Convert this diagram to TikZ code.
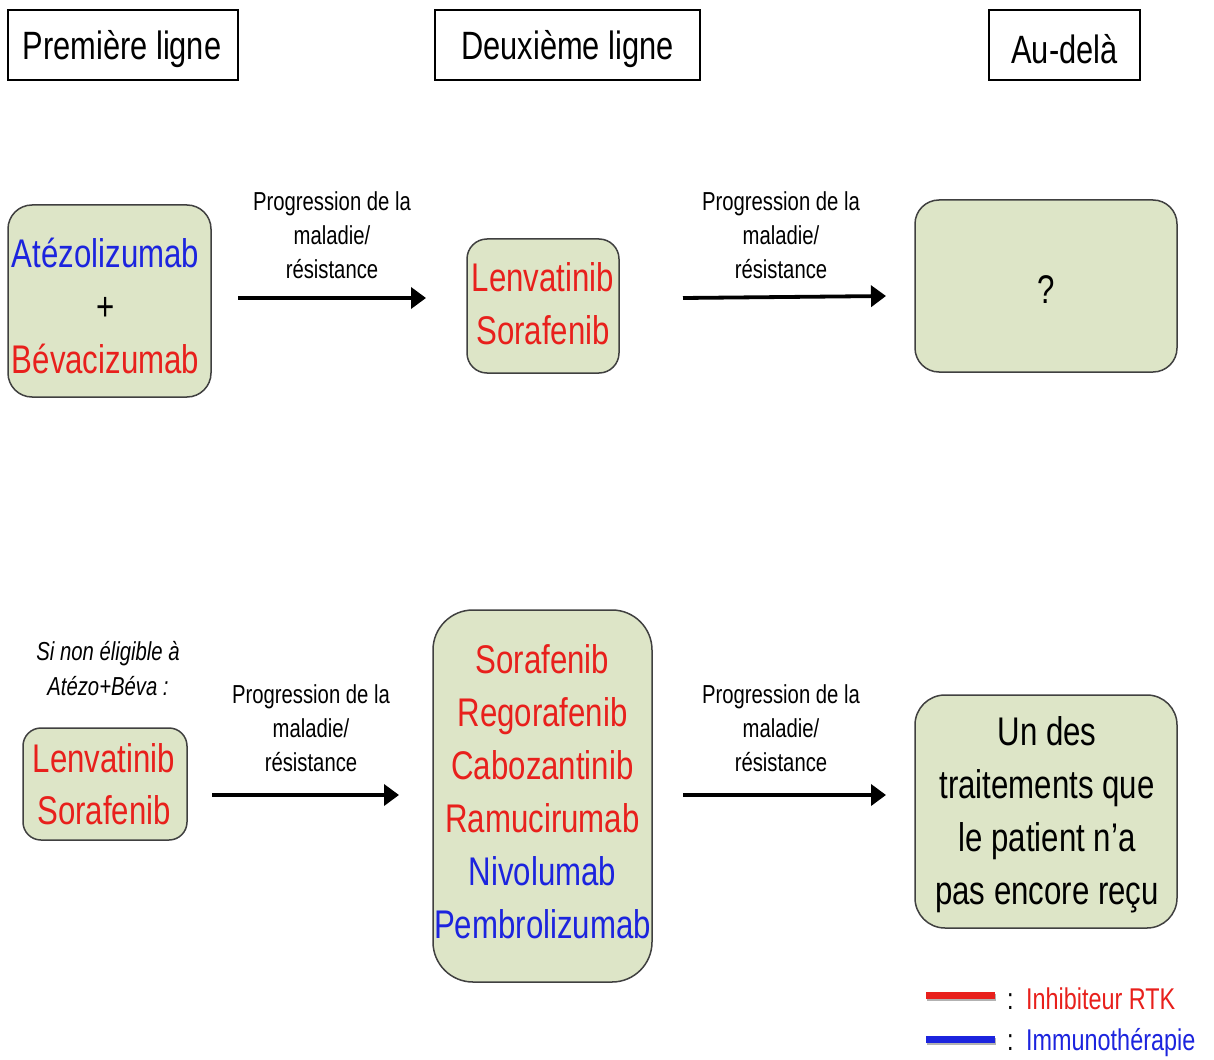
\documentclass[tikz,border=0pt]{standalone}
\usepackage{fontspec}
\setmainfont{Liberation Sans}[FakeStretch=0.78]
\usetikzlibrary{arrows.meta}
\definecolor{rr}{RGB}{232,32,28}
\definecolor{bb}{RGB}{28,36,222}
\definecolor{gf}{RGB}{221,229,199}
\begin{document}
\begin{tikzpicture}[x=1pt,y=-1pt,
 hdr/.style={draw=black,line width=1.2pt,minimum height=70pt,inner sep=0pt},
 hdrt/.style={inner sep=0pt,font=\fontsize{39.5}{44}\selectfont},
 box/.style={draw=black!75,line width=1.5pt,fill=gf,rounded corners=24pt,inner sep=0pt},
 txt/.style={inner sep=0pt,align=center,font=\fontsize{40}{53}\selectfont},
 lab/.style={align=center,font=\fontsize{26}{34}\selectfont},
 arr/.style={line width=3.8pt,-{Triangle[length=15pt,width=21pt]}},
 leg/.style={line width=7pt},
 legt/.style={anchor=base west,inner sep=0pt,font=\fontsize{30}{36}\selectfont}]
\useasboundingbox[fill=white] (0,0) rectangle (1214,1059);
% headers
\node[hdr,minimum width=230pt] (h1) at (123,45) {};
\node[hdr,minimum width=265pt] (h2) at (567.5,45) {};
\node[hdr,minimum width=151pt] (h3) at (1064.5,45) {};
\node[hdrt] (h1t) at (122,49) {Première ligne};
\node[hdrt] (h2t) at (567.5,49) {Deuxième ligne};
\node[hdrt] (h3t) at (1064.5,49) {Au-delà};
% top row
\node[box,minimum width=203pt,minimum height=192pt] (b1) at (109.5,301) {};
\node[txt] (b1t) at (105.5,306) {\textcolor{bb}{Atézolizumab}\\+\\\textcolor{rr}{Bévacizumab}};
\node[box,minimum width=152pt,minimum height=134pt,rounded corners=20pt] (b2) at (543,306) {};
\node[txt,text=rr] (b2t) at (543,304) {Lenvatinib\\Sorafenib};
\node[box,minimum width=262pt,minimum height=172pt] (b3) at (1046,286) {};
\node[txt] (b3t) at (1046,290) {?};
\coordinate (a1s) at (238,298); \coordinate (a1e) at (426,298);
\coordinate (a2s) at (683,298); \coordinate (a2e) at (886,296);
\draw[arr] (a1s) -- (a1e);
\draw[arr] (a2s) -- (a2e);
\node[lab] (l1) at (332,235) {Progression de la\\maladie/\\résistance};
\node[lab] (l2) at (781,235) {Progression de la\\maladie/\\résistance};
% bottom row
\node[lab,font=\fontsize{26}{35}\selectfont\itshape] (note) at (108,669) {Si non éligible à\\Atézo+Béva :};
\node[box,minimum width=164pt,minimum height=112pt,rounded corners=18pt] (b4) at (105,784) {};
\node[txt,text=rr,font=\fontsize{40}{52}\selectfont] (b4t) at (104,784) {Lenvatinib\\Sorafenib};
\node[box,minimum width=219pt,minimum height=372pt,rounded corners=40pt] (b5) at (542.5,796) {};
\node[txt] (b5t) at (542.5,791.5)
  {\textcolor{rr}{Sorafenib}\\\textcolor{rr}{Regorafenib}\\\textcolor{rr}{Cabozantinib}\\\textcolor{rr}{Ramucirumab}\\\textcolor{bb}{Nivolumab}\\\textcolor{bb}{Pembrolizumab}};
\node[box,minimum width=262pt,minimum height=233pt,rounded corners=30pt] (b6) at (1046,811.5) {};
\node[txt] (b6t) at (1047,814.5) {Un des\\traitements que\\le patient n’a\\pas encore reçu};
\coordinate (a3s) at (212,795); \coordinate (a3e) at (399,795);
\coordinate (a4s) at (683,795); \coordinate (a4e) at (886,795);
\draw[arr] (a3s) -- (a3e);
\draw[arr] (a4s) -- (a4e);
\node[lab] (l3) at (311,728) {Progression de la\\maladie/\\résistance};
\node[lab] (l4) at (781,728) {Progression de la\\maladie/\\résistance};
% legend
\draw[leg,black!30] (927,997) -- (996,997);
\draw[leg,rr] (926,995) -- (995,995);
\draw[leg,black!30] (927,1041) -- (996,1041);
\draw[leg,bb] (926,1039) -- (995,1039);
\node[legt] (c1) at (1007,1009) {:};
\node[legt] (c2) at (1007,1050) {:};
\node[legt,text=rr] (t1) at (1026,1009) {Inhibiteur RTK};
\node[legt,text=bb] (t2) at (1026,1050) {Immunothérapie};
\end{tikzpicture}
\end{document}
